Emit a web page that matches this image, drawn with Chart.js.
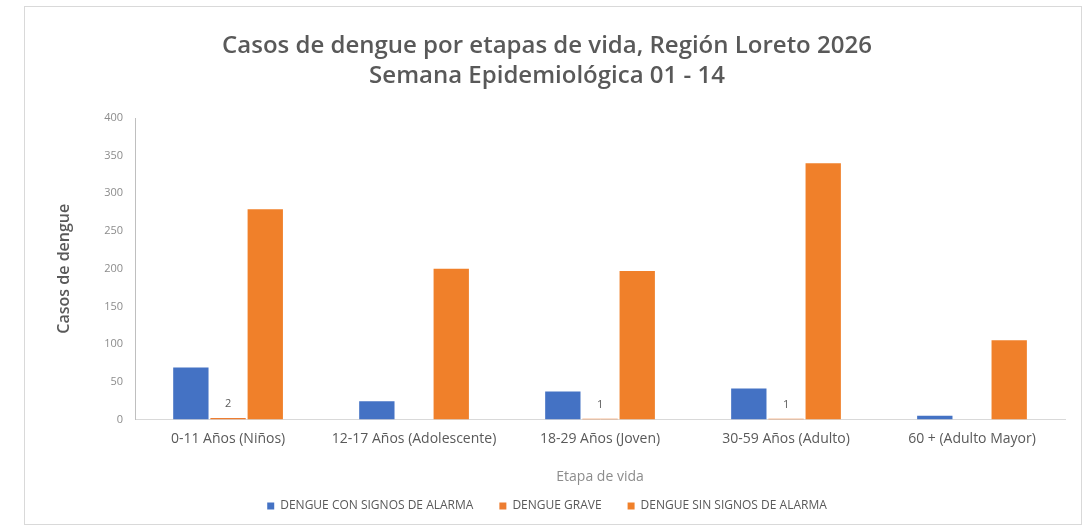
<!DOCTYPE html>
<html>
<head>
<meta charset="utf-8">
<script src="https://cdn.jsdelivr.net/npm/chart.js@4"></script>
<style>
  body { margin: 0; background: #fff; }
  #box { position: absolute; left: 24px; top: 6px; width: 1058px; height: 519px; border: 1px solid #d9d9d9; box-sizing: border-box; }
  canvas { display: block; }
</style>
</head>
<body>
<div id="box"><canvas id="dengueChart"></canvas></div>
<script>
// datos
const etapas = ['0-11 Años (Niños)', '12-17 Años (Adolescente)', '18-29 Años (Joven)', '30-59 Años (Adulto)', '60 + (Adulto Mayor)'];
const conSignos = [69, 24, 37, 41, 5];
const grave = [2, 0, 1, 1, 0];
const sinSignos = [279, 200, 197, 340, 105];
const yTicks = [0, 50, 100, 150, 200, 250, 300, 350, 400];

const fuente = '"Open Sans", Lato, sans-serif';
const gris = '#595959';

// etiquetas solo para dengue grave
const etiquetasGrave = {
    id: 'etiquetasGrave',
    afterDatasetsDraw(chart) {
        const ctx = chart.ctx;
        const meta = chart.getDatasetMeta(1);
        ctx.save();
        ctx.font = '11px ' + fuente;
        ctx.fillStyle = gris;
        ctx.textAlign = 'center';
        ctx.textBaseline = 'middle';
        meta.data.forEach((bar, i) => {
            if (!grave[i]) return;
            ctx.fillText(String(grave[i]), bar.x, bar.y - 14);
        });
        ctx.restore();
    }
};

const ctx = document.getElementById('dengueChart').getContext('2d');
const dengueChart = new Chart(ctx, {
    type: 'bar',
    data: {
        labels: etapas,
        datasets: [
            { label: 'DENGUE CON SIGNOS DE ALARMA', data: conSignos, backgroundColor: '#4472C4' },
            { label: 'DENGUE GRAVE', data: grave, backgroundColor: '#ED7D31' },
            { label: 'DENGUE SIN SIGNOS DE ALARMA', data: sinSignos, backgroundColor: '#F0802A' }
        ]
    },
    options: {
        responsive: true,
        maintainAspectRatio: false,
        animation: false,
        datasets: { bar: { categoryPercentage: 0.6, barPercentage: 0.95 } },
        layout: { padding: { left: 4, right: 16, top: 10, bottom: 2 } },
        plugins: {
            title: {
                display: true,
                text: ['Casos de dengue por etapas de vida, Región Loreto 2026', 'Semana Epidemiológica 01 - 14'],
                color: gris,
                font: { family: fuente, size: 24, weight: '600', lineHeight: 1.25 },
                padding: { top: 14, bottom: 27 }
            },
            legend: {
                position: 'bottom',
                labels: {
                    color: gris,
                    font: { family: fuente, size: 12 },
                    boxWidth: 7,
                    boxHeight: 7,
                    padding: 26
                }
            },
            tooltip: { enabled: false }
        },
        scales: {
            x: {
                grid: { display: false, drawTicks: false },
                border: { color: '#d9d9d9' },
                ticks: { color: gris, font: { family: fuente, size: 14 }, padding: 11 },
                title: { display: true, text: 'Etapa de vida', color: '#8c8c8c', font: { family: fuente, size: 14 }, padding: { top: 10, bottom: -11 } }
            },
            y: {
                min: 0,
                max: 400,
                afterBuildTicks: (axis) => { axis.ticks = yTicks.map(v => ({ value: v })); },
                grid: { display: false, drawTicks: false },
                border: { color: '#bfbfbf' },
                ticks: { color: '#8c8c8c', font: { family: fuente, size: 11 }, padding: 12 },
                title: { display: true, text: 'Casos de dengue', color: gris, font: { family: fuente, size: 16, weight: '600' }, padding: { top: 26, bottom: 18 } }
            }
        }
    },
    plugins: [etiquetasGrave]
});
</script>
</body>
</html>
